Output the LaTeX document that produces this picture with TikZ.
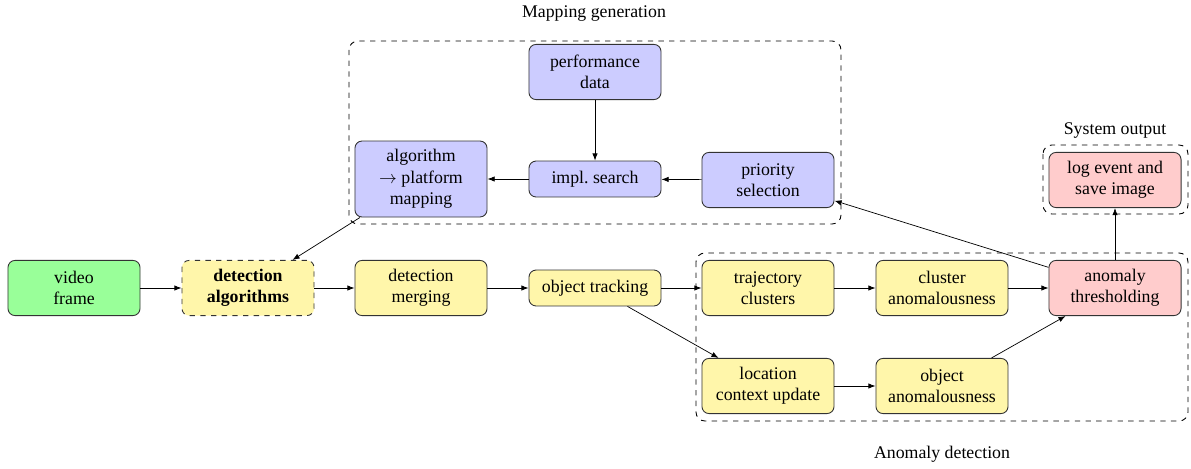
\documentclass[tikz,border=0pt]{standalone}
\usepackage{fontspec}
\setmainfont{Liberation Serif}
\usetikzlibrary{arrows.meta}
\definecolor{stagegreen}{RGB}{153,255,153}
\definecolor{stageyellow}{RGB}{255,246,170}
\definecolor{stageblue}{RGB}{204,204,255}
\definecolor{stagered}{RGB}{255,204,204}
\tikzset{
  box/.style={draw=black!80, rounded corners=4pt, align=center,
    minimum width=74.2pt, minimum height=31pt, inner sep=2pt, line width=0.5pt},
  onerow/.style={minimum height=20.2pt},
  threerow/.style={minimum height=42.7pt},
  grp/.style={draw=black, dashed, rounded corners=5pt, line width=0.5pt},
  flow/.style={-{Latex[length=4pt,width=3pt]}, black},
}
\begin{document}
\begin{tikzpicture}[x=0.5618pt, y=-0.5618pt]
  \useasboundingbox (0,0) rectangle (1191,468);

  % processing stages
  \node[box, fill=stagegreen] (vf) at (74,288) {video\\frame};
  \node[box, fill=stageyellow, dashed, font=\bfseries] (da) at (248,288) {detection\\algorithms};
  \node[box, fill=stageyellow] (dm) at (421,288) {detection\\merging};
  \node[box, onerow, fill=stageyellow] (ot) at (595,288) {object tracking};
  \node[box, fill=stageyellow] (tc) at (768,288) {trajectory\\clusters};
  \node[box, fill=stageyellow] (ca) at (942,288) {cluster\\anomalousness};
  \node[box, fill=stagered] (at) at (1115,288) {anomaly\\thresholding};
  \node[box, fill=stageyellow] (lc) at (768,386) {location\\context update};
  \node[box, fill=stageyellow] (oa) at (942,386) {object\\anomalousness};
  \node[box, fill=stagered] (le) at (1115,180) {log event and\\save image};

  % mapping generation stages
  \node[box, threerow, fill=stageblue] (am) at (421,179) {algorithm\\$\rightarrow$ platform\\mapping};
  \node[box, onerow, fill=stageblue] (is) at (595,179) {impl.\ search};
  \node[box, fill=stageblue] (ps) at (768,180) {priority\\selection};
  \node[box, fill=stageblue] (pd) at (595,72) {performance\\data};

  % group frames
  \draw[grp] (349,41) rectangle (841,224);
  \draw[grp] (696,253) rectangle (1188,421);
  \draw[grp] (1043,145) rectangle (1188,214);
  \node (lblmap) at (594,14) {Mapping generation};
  \node (lblanom) at (942,454) {Anomaly detection};
  \node (lblout) at (1115,131) {System output};

  % connections
  \draw[flow] (vf) -- (da);
  \draw[flow] (da) -- (dm);
  \draw[flow] (dm) -- (ot);
  \draw[flow] (ot) -- (tc);
  \draw[flow] (ot) -- (lc);
  \draw[flow] (tc) -- (ca);
  \draw[flow] (ca) -- (at);
  \draw[flow] (lc) -- (oa);
  \draw[flow] (oa) -- (at);
  \draw[flow] (at) -- (le);
  \draw[flow] (at) -- (ps);
  \draw[flow] (pd) -- (is);
  \draw[flow] (ps) -- (is);
  \draw[flow] (is) -- (am);
  \draw[flow] (am) -- (da);
\end{tikzpicture}
\end{document}
